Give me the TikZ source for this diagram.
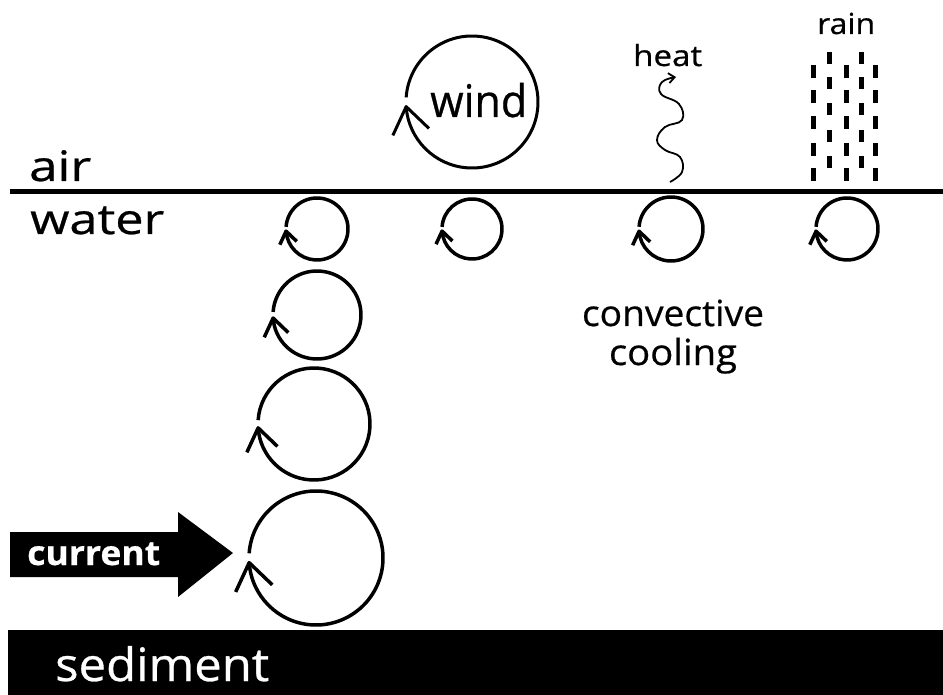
\documentclass[tikz,border=0pt]{standalone}
\usepackage{fontspec}
\setmainfont{Open Sans}[FakeBold=0.6]
\usetikzlibrary{arrows.meta}
\newlength\tmpw
\newcommand\fitw[2]{\settowidth{\tmpw}{#2}\pgfmathsetmacro\fitratio{#1/\tmpw}\scalebox{\fitratio}[1]{#2}}
\tikzset{
  eddyline/.style={line width=3.5pt, line join=round},
  lbl/.style={inner sep=0pt, anchor=base west},
  raindash/.style={line width=5pt},
}
\newcommand\eddy[5][]{%
  \coordinate (#2) at (#3,#4);
  \draw[eddyline,#1] (#2) ++(176:#5pt) arc[start angle=176,end angle=-176,radius=#5pt] coordinate (#2tip);
  \pgfmathsetmacro\armL{0.48*#5}
  \draw[eddyline,#1] (#2tip) ++(-0.42*\armL,0.91*\armL) -- (#2tip) -- ++(0.72*\armL,0.69*\armL);
}
\begin{document}
\begin{tikzpicture}[x=1pt,y=-1pt]
\useasboundingbox (0,0) rectangle (943,695);
% surface line
\coordinate (s1) at (10,192);
\coordinate (s2) at (943,192);
\draw[line width=5pt] (s1) -- (s2);
\node[lbl,font=\fontsize{42}{42}\selectfont] (air) at (29,181) {\fitw{62pt}{air}};
\node[lbl,font=\fontsize{42}{42}\selectfont] (water) at (30,234) {\fitw{134pt}{water}};
% wind
\eddy[line width=3pt]{wnd}{472}{102}{66}
\node[lbl,font=\fontsize{45}{45}\selectfont] (wind) at (430,117) {\fitw{97pt}{wind}};
% small eddies at surface
\eddy{e1}{317}{229}{31}
\eddy{e2}{472}{229}{30}
\eddy{e3}{671}{229}{32}
\eddy{e4}{847}{229}{31}
% column of eddies
\eddy{c2}{317}{315}{44}
\eddy{c3}{314}{424}{56}
\eddy{c4}{316}{558}{67}
% heat
\node[lbl,font=\fontsize{29}{29}\selectfont] (heat) at (633,66) {\fitw{69pt}{heat}};
\draw[line width=1.8pt,-{Straight Barb[length=6pt,width=10pt]}] plot[smooth,tension=0.7] coordinates {(670,182) (682,172) (680,157) (665,150) (657,140) (665,127) (682,120) (679,104) (661,94) (662,82) (676,77)};
% rain
\node[lbl,font=\fontsize{29}{29}\selectfont] (rain) at (817,34) {\fitw{58pt}{rain}};
\foreach \x in {813,846,875}{
  \foreach \y in {65,90.5,116.5,143,168}{
    \draw[raindash] (\x,\y) -- ++(0,13);
  }
}
\foreach \x in {829,861}{
  \foreach \y in {52,77.5,103.5,130,156}{
    \draw[raindash] (\x,\y) -- ++(0,12);
  }
}
% convective cooling
\node[inner sep=0pt,anchor=base,font=\fontsize{36}{36}\selectfont] (conv) at (673,326) {\fitw{182pt}{convective}};
\node[inner sep=0pt,anchor=base,font=\fontsize{36}{36}\selectfont] (cool) at (673,365) {\fitw{128pt}{cooling}};
% current arrow
\fill (10,532) -- (178,532) -- (178,512) -- (233,553) -- (178,597) -- (178,577) -- (10,577) -- cycle;
\node[lbl,text=white,font=\fontsize{34}{34}\bfseries\selectfont] (current) at (27,565) {\fitw{133pt}{current}};
% sediment
\fill (8,630) rectangle (943,695);
\node[lbl,text=white,font=\fontsize{46}{46}\selectfont] (sediment) at (55,681) {\fitw{214pt}{sediment}};
\end{tikzpicture}
\end{document}
